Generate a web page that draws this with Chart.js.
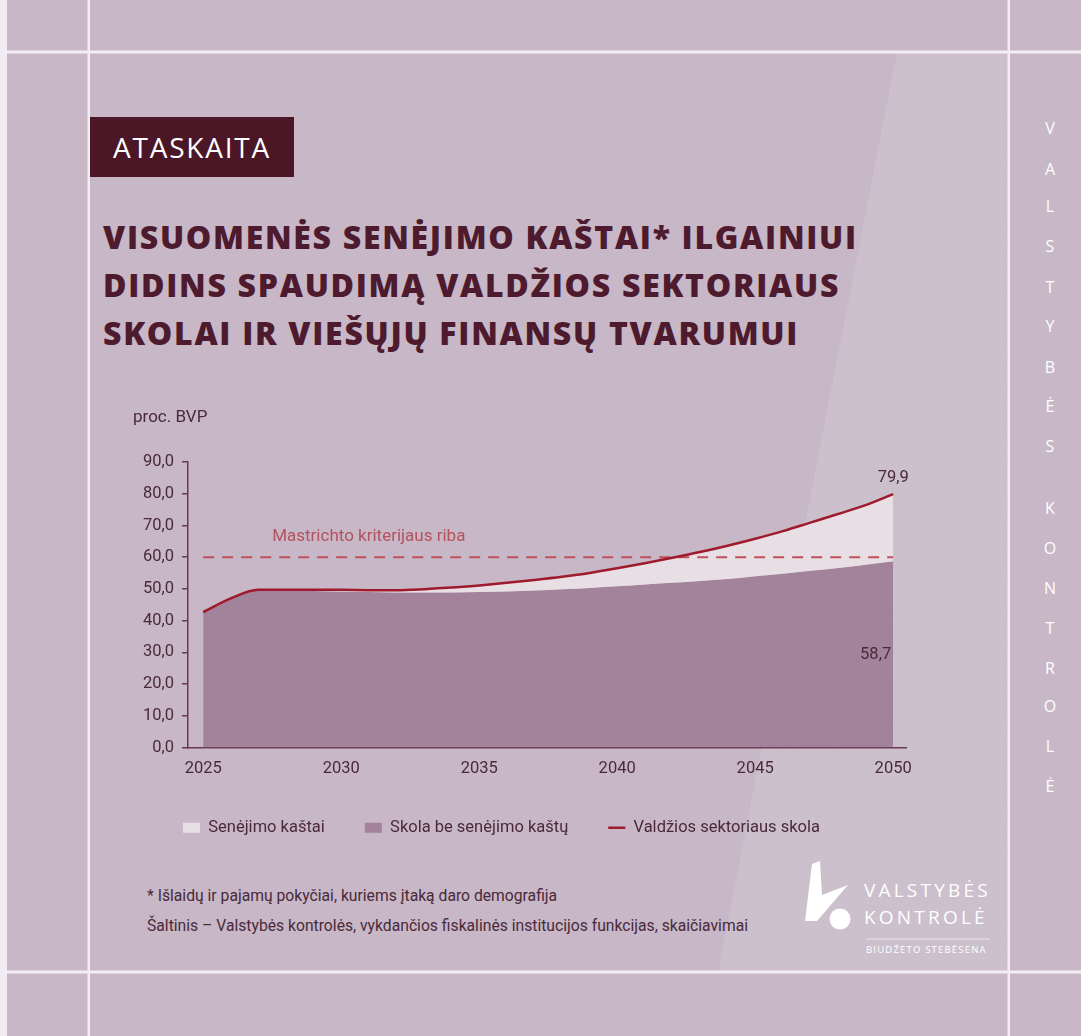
<!DOCTYPE html>
<html><head><meta charset="utf-8">
<script src="https://cdn.jsdelivr.net/npm/chart.js@4.4.1/dist/chart.umd.min.js"></script>
<style>
html,body{margin:0;padding:0;}
body{width:1081px;height:1036px;position:relative;background:#c7b7c7;overflow:hidden;font-family:Roboto,sans-serif;}
.abs{position:absolute;}
#badge{left:90px;top:117px;width:204px;height:60px;background:#4b1727;color:#fff;font:400 28px "Open Sans",sans-serif;line-height:60px;text-align:center;letter-spacing:1.8px;}
#title{left:103px;top:213px;margin:0;font:800 32px "Open Sans",sans-serif;line-height:48px;color:#4e1a2d;white-space:nowrap;letter-spacing:1.7px;}
.note{left:147px;font-size:15.7px;color:#4a2a3a;white-space:nowrap;line-height:18px;}
.vl{left:1038px;width:24px;text-align:center;color:#fff;font:500 16px "Open Sans",sans-serif;line-height:18px;}
#chartbox{left:80px;top:400px;width:843px;height:450px;}
.logo{color:#fff;font-family:"Open Sans",sans-serif;white-space:nowrap;}
</style></head>
<body>
<svg class="abs" style="left:0;top:0" width="1081" height="1036">
  <defs>
    <filter id="noise" x="0" y="0" width="100%" height="100%">
      <feTurbulence type="fractalNoise" baseFrequency="0.9" numOctaves="2" seed="3" result="t"/>
      <feColorMatrix in="t" type="saturate" values="0" result="g"/>
      <feComponentTransfer in="g" result="a"><feFuncA type="linear" slope="0.07"/></feComponentTransfer>
      <feComposite in="a" in2="SourceGraphic" operator="in"/>
    </filter>
  </defs>
  <polygon points="897,52 1008,52 1008,972 718,972 833,380" fill="#ccc0cc"/>
  <polygon points="897,52 1008,52 1008,972 718,972 833,380" fill="#ffffff" filter="url(#noise)"/>
  <rect x="0" y="0" width="7" height="1036" fill="#f2ecf2"/>
  <rect x="4" y="50.5" width="1077" height="3" fill="#f3eef3"/>
  <rect x="4" y="970.5" width="1077" height="3" fill="#f3eef3"/>
  <rect x="87.5" y="0" width="2.5" height="1036" fill="#f3eef3"/>
  <rect x="1007.5" y="0" width="2.5" height="1036" fill="#f3eef3"/>
  <path d="M812,864 L820,861 L822,895 L848,885 L817,921 L805,921 Z" fill="#ffffff"/>
  <circle cx="840" cy="919" r="10.5" fill="#ffffff"/>
  <rect x="866" y="938.5" width="124" height="1" fill="#eee6ee"/>
</svg>
<div id="badge" class="abs">ATASKAITA</div>
<h1 id="title" class="abs">VISUOMENĖS SENĖJIMO KAŠTAI* ILGAINIUI<br>DIDINS SPAUDIMĄ VALDŽIOS SEKTORIAUS<br>SKOLAI IR VIEŠŲJŲ FINANSŲ TVARUMUI</h1>
<div id="chartbox" class="abs"><canvas id="c" width="843" height="450"></canvas></div>
<div class="abs note" style="top:887px">* Išlaidų ir pajamų pokyčiai, kuriems įtaką daro demografija</div>
<div class="abs note" style="top:917px">Šaltinis – Valstybės kontrolės, vykdančios fiskalinės institucijos funkcijas, skaičiavimai</div>
<div class="abs logo" style="left:864px;top:877px;font-size:19px;font-weight:400;letter-spacing:3.2px;line-height:27px">VALSTYBĖS<br>KONTROLĖ</div>
<div class="abs logo" style="left:866px;top:944px;font-size:9.5px;letter-spacing:1.2px;line-height:12px">BIUDŽETO STEBĖSENA</div>
<div id="vert"></div>
<script>
// vertical brand letters
const vertLetters = ['V','A','L','S','T','Y','B','Ė','S','K','O','N','T','R','O','L','Ė'];
const vertY = [128,169,206,246,287,326,367,406,446,508,548,588,628,668,706,746,786];
const vert = document.getElementById('vert');
vertLetters.forEach((ch,i)=>{const d=document.createElement('div');d.className='abs vl';d.style.top=(vertY[i]-9)+'px';d.textContent=ch;vert.appendChild(d);});

// ---- data ----
const years = [2025,2026,2027,2028,2029,2030,2031,2032,2033,2034,2035,2036,2037,2038,2039,2040,2041,2042,2043,2044,2045,2046,2047,2048,2049,2050];
const governmentDebt = [42.7,47.0,49.7,49.7,49.7,49.7,49.6,49.6,49.9,50.4,51.1,51.9,52.8,53.8,55.0,56.5,58.1,59.8,61.6,63.6,65.8,68.2,70.9,73.6,76.4,79.9];
const debtWithoutAging = [42.7,47.0,49.5,49.4,49.3,49.2,49.0,48.9,48.9,48.9,49.0,49.2,49.5,49.9,50.3,50.8,51.4,51.9,52.5,53.1,54.0,54.8,55.7,56.6,57.6,58.7];
const maastrichtYears = [2025,2050];
const maastrichtLimit = [60,60];
const xTickYears = [2025,2030,2035,2040,2045,2050];
const legendLabels = ['Senėjimo kaštai','Skola be senėjimo kaštų','Valdžios sektoriaus skola'];

const toPts = (xs,ys)=>xs.map((x,i)=>({x:x,y:ys[i]}));
const txt = '#4a2a3a', axisC = '#6a3a4c', red = '#9e1a2c', agingC = '#e8dfe4', baseC = '#a3839c', dashC = '#c0505c';

const annot = {
  id:'annot',
  afterDatasetsDraw(chart){
    const {ctx, scales:{x,y}} = chart;
    ctx.save();
    ctx.font = '17px Roboto';
    ctx.fillStyle = txt;
    ctx.textBaseline = 'middle';
    ctx.textAlign = 'left';
    ctx.fillText('proc. BVP', x.left - 55, y.top - 44);
    ctx.fillStyle = '#b4525e';
    ctx.fillText('Mastrichto kriterijaus riba', x.getPixelForValue(2027.5), y.getPixelForValue(60) - 20);
    ctx.font = '16.5px Roboto';
    ctx.fillStyle = txt;
    ctx.textAlign = 'center';
    const last = years.length-1;
    ctx.fillText(String(governmentDebt[last]).replace('.',','), x.getPixelForValue(years[last]), y.getPixelForValue(governmentDebt[last]) - 16);
    ctx.textAlign = 'right';
    ctx.fillText(String(debtWithoutAging[last]).replace('.',','), x.getPixelForValue(years[last]) - 2, y.getPixelForValue(debtWithoutAging[last]/2));
    ctx.restore();
  }
};

new Chart(document.getElementById('c'), {
  type:'line',
  data:{datasets:[
    {label:legendLabels[0], data:toPts(years,governmentDebt), fill:1, backgroundColor:agingC, borderWidth:0, pointRadius:0, cubicInterpolationMode:'monotone', order:2},
    {label:legendLabels[1], data:toPts(years,debtWithoutAging), fill:'origin', backgroundColor:baseC, borderWidth:0, pointRadius:0, cubicInterpolationMode:'monotone', order:3},
    {label:legendLabels[2], data:toPts(years,governmentDebt), fill:false, borderColor:red, borderWidth:2.5, pointRadius:0, cubicInterpolationMode:'monotone', order:0},
    {label:'Mastrichto kriterijaus riba', data:toPts(maastrichtYears,maastrichtLimit), fill:false, borderColor:dashC, borderWidth:2, borderDash:[11,8], pointRadius:0, order:1}
  ]},
  options:{
    responsive:false, animation:false,
    layout:{padding:{left:16,right:16,top:62,bottom:4}},
    plugins:{
      tooltip:{enabled:false},
      legend:{position:'bottom', labels:{
        color:txt, font:{family:'Roboto',size:16.5}, usePointStyle:true, pointStyleWidth:17, boxHeight:10, padding:40,
        generateLabels:()=>[
          {text:legendLabels[0], fillStyle:agingC, strokeStyle:agingC, lineWidth:0, pointStyle:'rect', fontColor:txt, datasetIndex:0},
          {text:legendLabels[1], fillStyle:baseC, strokeStyle:baseC, lineWidth:0, pointStyle:'rect', fontColor:txt, datasetIndex:1},
          {text:legendLabels[2], fillStyle:red, strokeStyle:red, lineWidth:2.5, pointStyle:'line', fontColor:txt, datasetIndex:2}
        ]
      }}
    },
    scales:{
      x:{type:'linear', min:2024.45, max:2050.47,
        afterBuildTicks(s){ s.ticks = xTickYears.map(v=>({value:v})); },
        ticks:{callback:v=>String(v), color:txt, font:{family:'Roboto',size:16.5}, padding:11, maxRotation:0},
        grid:{display:false, drawTicks:false},
        border:{display:true, color:axisC, width:1.5},
        afterFit(s){ s.height = 32; }
      },
      y:{min:0, max:90,
        ticks:{stepSize:10, callback:v=>v.toFixed(1).replace('.',','), color:txt, font:{family:'Roboto',size:16.5}, padding:8},
        grid:{display:true, drawOnChartArea:false, drawTicks:true, tickLength:6, color:axisC, lineWidth:1.5},
        border:{display:true, color:axisC, width:1.5},
        afterFit(s){ s.width = 92; }
      }
    }
  },
  plugins:[annot]
});
</script>
</body></html>
